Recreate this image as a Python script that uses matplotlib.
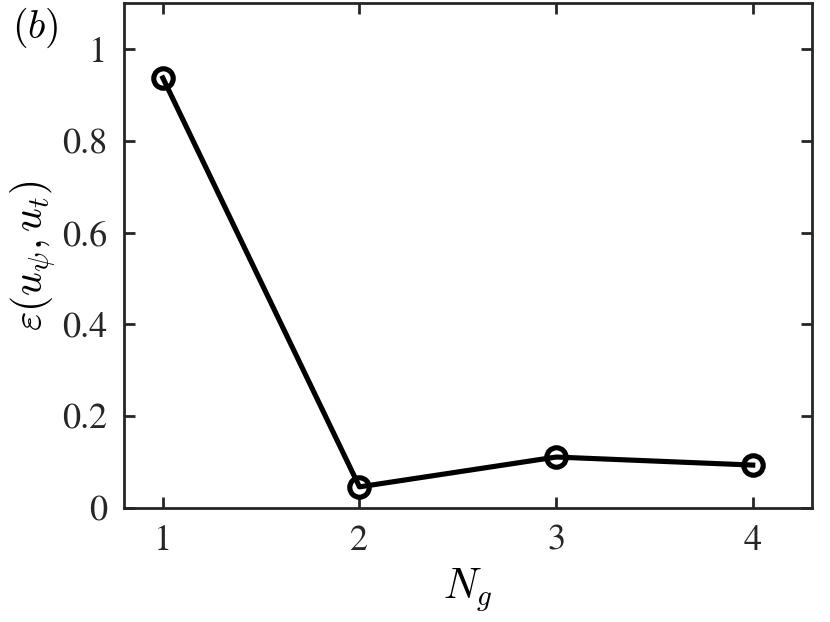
import matplotlib
matplotlib.use("Agg")
import matplotlib.pyplot as plt

n_groups = [1, 2, 3, 4]
err = [0.937, 0.046, 0.111, 0.0935]
x_ticks = [1, 2, 3, 4]
y_ticks = [0, 0.2, 0.4, 0.6, 0.8, 1]
y_tick_labels = ["0", "0.2", "0.4", "0.6", "0.8", "1"]

plt.rcParams["font.family"] = ["STIXGeneral", "Liberation Serif", "DejaVu Serif"]
plt.rcParams["mathtext.fontset"] = "cm"

fig = plt.figure(figsize=(8.3, 6.22), dpi=100)
ax = fig.add_axes([0.1488, 0.1833, 0.8292, 0.8117])

ax.plot(n_groups, err, color="black", lw=3.7, marker="o", ms=14,
        mfc="none", mec="black", mew=3.7, zorder=3)

ax.set_xlim(0.8, 4.3)
ax.set_ylim(0, 1.1)
ax.set_xticks(x_ticks)
ax.set_yticks(y_ticks)
ax.set_yticklabels(y_tick_labels)

spine_col = "#262626"
for s in ax.spines.values():
    s.set_linewidth(2)
    s.set_color(spine_col)
ax.tick_params(direction="in", length=8, width=2, color=spine_col,
               top=True, right=True, labelsize=26, pad=12, labelcolor="#262626")

ax.set_xlabel(r"$N_g$", fontsize=30, labelpad=6)
ax.set_ylabel(r"$\varepsilon(u_\psi, u_t)$", fontsize=30, labelpad=3)

fig.text(0.015, 0.955, r"$(b)$", fontsize=29, va="center", ha="left")

fig.savefig("out.png", dpi=100)
